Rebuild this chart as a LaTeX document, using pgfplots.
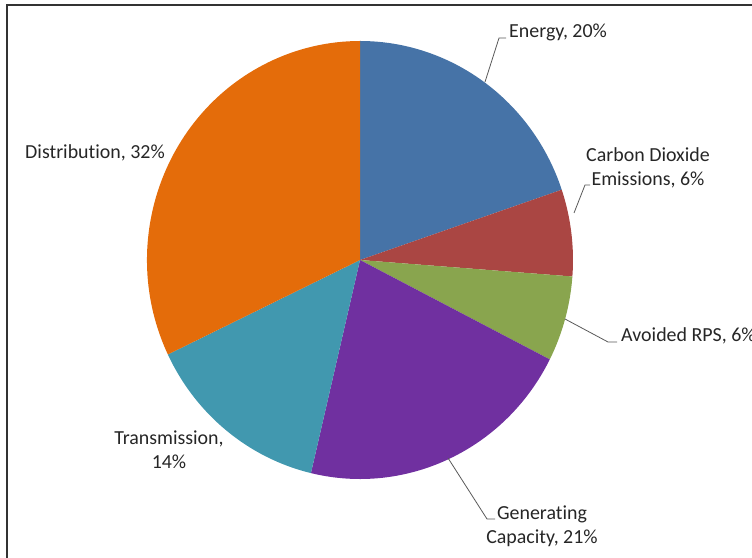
\documentclass[border=0pt]{standalone}
\usepackage{pgfplots}
\pgfplotsset{compat=1.18}
\usepackage{fontspec}
\setmainfont{Carlito}[Ligatures=NoCommon]

\definecolor{cEnergy}{HTML}{4673A7}
\definecolor{cCO2}{HTML}{AA4643}
\definecolor{cRPS}{HTML}{89A54E}
\definecolor{cGen}{HTML}{7030A0}
\definecolor{cTrans}{HTML}{4198AF}
\definecolor{cDist}{HTML}{E46C0A}
\definecolor{leader}{HTML}{595959}

\begin{document}
\begin{tikzpicture}[lbl/.style={font=\fontsize{20}{24}\selectfont, inner sep=0pt, text=black!85}]
\useasboundingbox (0,0) rectangle (752bp,558bp);
\clip (0,0) rectangle (752bp,558bp);
\begin{axis}[
    width=752bp, height=558bp,
    scale only axis,
    xmin=0, xmax=752,
    ymin=0, ymax=558,
    hide axis,
    clip=false,
]
% slices, clockwise from 12 o'clock (percent of total)
\pgfplotsextra{
  \gdef\angA{90}
  \foreach \v/\col in {19.8/cEnergy, 6.4/cCO2, 6.3/cRPS, 21.2/cGen, 14.2/cTrans, 32.1/cDist} {
    \pgfmathsetmacro\angB{\angA-3.6*\v}
    \fill[\col] (axis cs:360,298) -- ++(\angA:213bp and 219bp)
      arc[start angle=\angA, end angle=\angB, x radius=213bp, y radius=219bp] -- cycle;
    \xdef\angA{\angB}
  }
}

% leader lines
\draw[leader, line width=0.8bp] (axis cs:485,476) -- (axis cs:499,520) -- (axis cs:506,520);
\draw[leader, line width=0.8bp] (axis cs:574,345) -- (axis cs:585,373) -- (axis cs:590,373);
\draw[leader, line width=0.8bp] (axis cs:565,239) -- (axis cs:608,216) -- (axis cs:617,216);
\draw[leader, line width=0.8bp] (axis cs:448,100) -- (axis cs:487,39) -- (axis cs:495,39);

% data labels
\node[lbl, anchor=west] at (axis cs:509,526) {Energy, 20\%};
\node[lbl, align=center] at (axis cs:648,390) {Carbon Dioxide\\Emissions, 6\%};
\node[lbl, anchor=west] at (axis cs:621,222) {Avoided RPS, 6\%};
\node[lbl, align=center] at (axis cs:542,32) {Generating\\Capacity, 21\%};
\node[lbl, align=center] at (axis cs:169,108) {Transmission,\\14\%};
\node[lbl, anchor=west] at (axis cs:25,405) {Distribution, 32\%};

% chart area frame
\draw[black!80, line width=1.5bp] (axis cs:7,0) -- (axis cs:7,553) -- (axis cs:760,553);
\end{axis}
\end{tikzpicture}
\end{document}
